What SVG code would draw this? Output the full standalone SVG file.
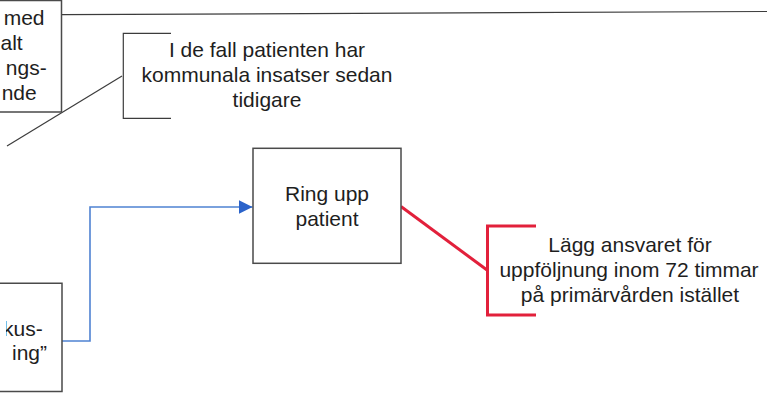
<svg xmlns="http://www.w3.org/2000/svg" width="767" height="396" viewBox="0 0 767 396">
  <style>
    .box { fill: #ffffff; stroke: #4a4a4a; stroke-width: 1.5; }
    .txt { font-family: "Liberation Sans", Arial, sans-serif; font-size: 21px; fill: #1e1e1e; }
    .mid { text-anchor: middle; }
    .end { text-anchor: end; }
    .thin { fill: none; stroke: #3c3c3c; stroke-width: 1.2; }
    .flow { fill: none; stroke: #4f82d2; stroke-width: 1.6; }
    .red { fill: none; stroke: #e2203b; stroke-width: 3; }
  </style>
  <defs>
    <marker id="arrowBlue" viewBox="0 0 14 14" refX="14" refY="7" markerWidth="14" markerHeight="14" markerUnits="userSpaceOnUse" orient="auto">
      <path d="M0,0 L14,7 L0,14 Z" fill="#2b63ca"/>
    </marker>
    <clipPath id="leftEdge">
      <rect x="6" y="280" width="60" height="116"/>
    </clipPath>
  </defs>

  <rect width="767" height="396" fill="#ffffff"/>

  <!-- connectors -->
  <g id="connectors">
    <line class="thin" x1="62" y1="14.7" x2="767" y2="11.5" stroke-width="1.6"/>
    <line class="thin" x1="122" y1="76" x2="7" y2="146"/>
    <polyline class="flow" points="62,341 90,341 90,207 252.5,207" marker-end="url(#arrowBlue)"/>
    <line class="red" x1="401" y1="206.5" x2="487" y2="270"/>
  </g>

  <!-- partially visible box, top left -->
  <g id="node-top-left">
    <path class="box" d="M-2,0.5 L61.5,0.5 L61.5,112 L-2,112"/>
    <text class="txt end" x="44.5" y="25">med</text>
    <text class="txt end" x="22.7" y="50">alt</text>
    <text class="txt end" x="46.7" y="75">ngs-</text>
    <text class="txt end" x="36.7" y="100">nde</text>
  </g>

  <!-- annotation bracket -->
  <g id="note-kommunala">
    <polyline class="thin" points="171,33.3 123.3,33.3 123.3,118.3 171,118.3"/>
    <text class="txt mid" x="267" y="56.7">I de fall patienten har</text>
    <text class="txt mid" x="267" y="82">kommunala insatser sedan</text>
    <text class="txt mid" x="267" y="107">tidigare</text>
  </g>

  <!-- partially visible box, bottom left -->
  <g id="node-bottom-left">
    <path class="box" d="M-2,283.3 L62,283.3 L62,391.5 L-2,391.5"/>
    <g clip-path="url(#leftEdge)">
      <text class="txt end" x="42.7" y="336">kus-</text>
      <text class="txt end" x="47" y="360">ing”</text>
    </g>
  </g>

  <!-- main step -->
  <g id="node-ring-upp">
    <rect class="box" x="253" y="148.3" width="148" height="115"/>
    <text class="txt mid" x="327" y="201">Ring upp</text>
    <text class="txt mid" x="327" y="226">patient</text>
  </g>

  <!-- red annotation bracket -->
  <g id="note-primarvard">
    <polyline class="red" points="536,226 487.5,226 487.5,315 536,315"/>
    <text class="txt mid" x="630" y="251.7">Lägg ansvaret för</text>
    <text class="txt mid" x="629" y="276.7">uppföljnung inom 72 timmar</text>
    <text class="txt mid" x="630" y="301.7">på primärvården istället</text>
  </g>
</svg>
